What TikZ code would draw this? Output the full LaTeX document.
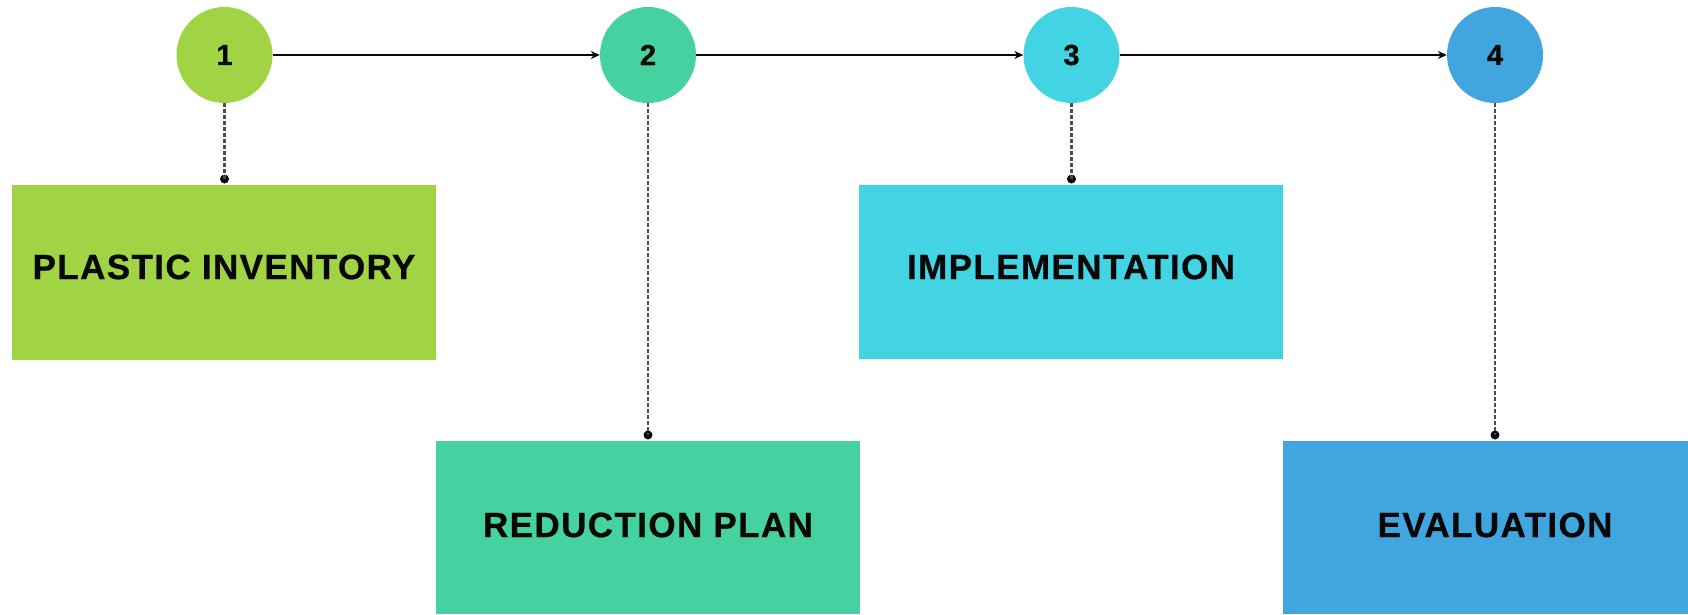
\documentclass[tikz,border=0pt]{standalone}
\usepackage{fontspec}
\setmainfont{Liberation Sans}
\newfontfamily\labfont[LetterSpace=4,FakeBold=0.6]{Liberation Sans Bold}
\newfontfamily\numfont[FakeBold=0.6]{Liberation Sans Bold}
\usetikzlibrary{arrows.meta}
\definecolor{cA}{RGB}{161,212,69}
\definecolor{cB}{RGB}{69,209,160}
\definecolor{cC}{RGB}{66,212,226}
\definecolor{cD}{RGB}{65,166,222}
\definecolor{ink}{RGB}{8,8,8}
\tikzset{
  stepcirc/.style={circle, inner sep=0pt, minimum size=96pt, text=ink, font=\fontsize{29}{30}\numfont},
  stepbox/.style={rectangle, inner sep=0pt, text=ink, font=\fontsize{35}{36}\labfont},
  flow/.style={draw=ink, line width=1.5pt, -{Stealth[length=9pt,width=8pt]}},
  leader/.style={draw=black!70, line width=2.5pt, dash pattern=on 4pt off 2pt},
  dotpt/.style={circle, fill=ink, inner sep=0pt, minimum size=9pt}
}
\begin{document}
\begin{tikzpicture}[x=1pt,y=-1pt]
\useasboundingbox (0,0) rectangle (1688,614);
% circles
\node[stepcirc, fill=cA] (c1) at (224.5,55) {1};
\node[stepcirc, fill=cB] (c2) at (648,55) {2};
\node[stepcirc, fill=cC] (c3) at (1071.5,55) {3};
\node[stepcirc, fill=cD] (c4) at (1495,55) {4};
% boxes
\fill[cA] (12,185) rectangle (436,360);
\node[stepbox] (b1) at (224,267) {PLASTIC INVENTORY};
\fill[cB] (436,441) rectangle (860,614);
\node[stepbox] (b2) at (648,525) {REDUCTION PLAN};
\fill[cC] (859,185) rectangle (1283,359);
\node[stepbox] (b3) at (1071,267) {IMPLEMENTATION};
\fill[cD] (1283,441) rectangle (1688,614);
\node[stepbox] (b4) at (1495,525) {EVALUATION};
% dots
\node[dotpt] (d1) at (224.5,179) {};
\node[dotpt] (d2) at (648,435) {};
\node[dotpt] (d3) at (1071.5,179) {};
\node[dotpt] (d4) at (1495,435) {};
% leaders
\draw[leader] (c1.south) -- (d1.center);
\draw[leader] (c2.south) -- (d2.center);
\draw[leader] (c3.south) -- (d3.center);
\draw[leader] (c4.south) -- (d4.center);
% arrows
\draw[flow] (c1.east) -- (c2.west);
\draw[flow] (c2.east) -- (c3.west);
\draw[flow] (c3.east) -- (c4.west);
\end{tikzpicture}
\end{document}
